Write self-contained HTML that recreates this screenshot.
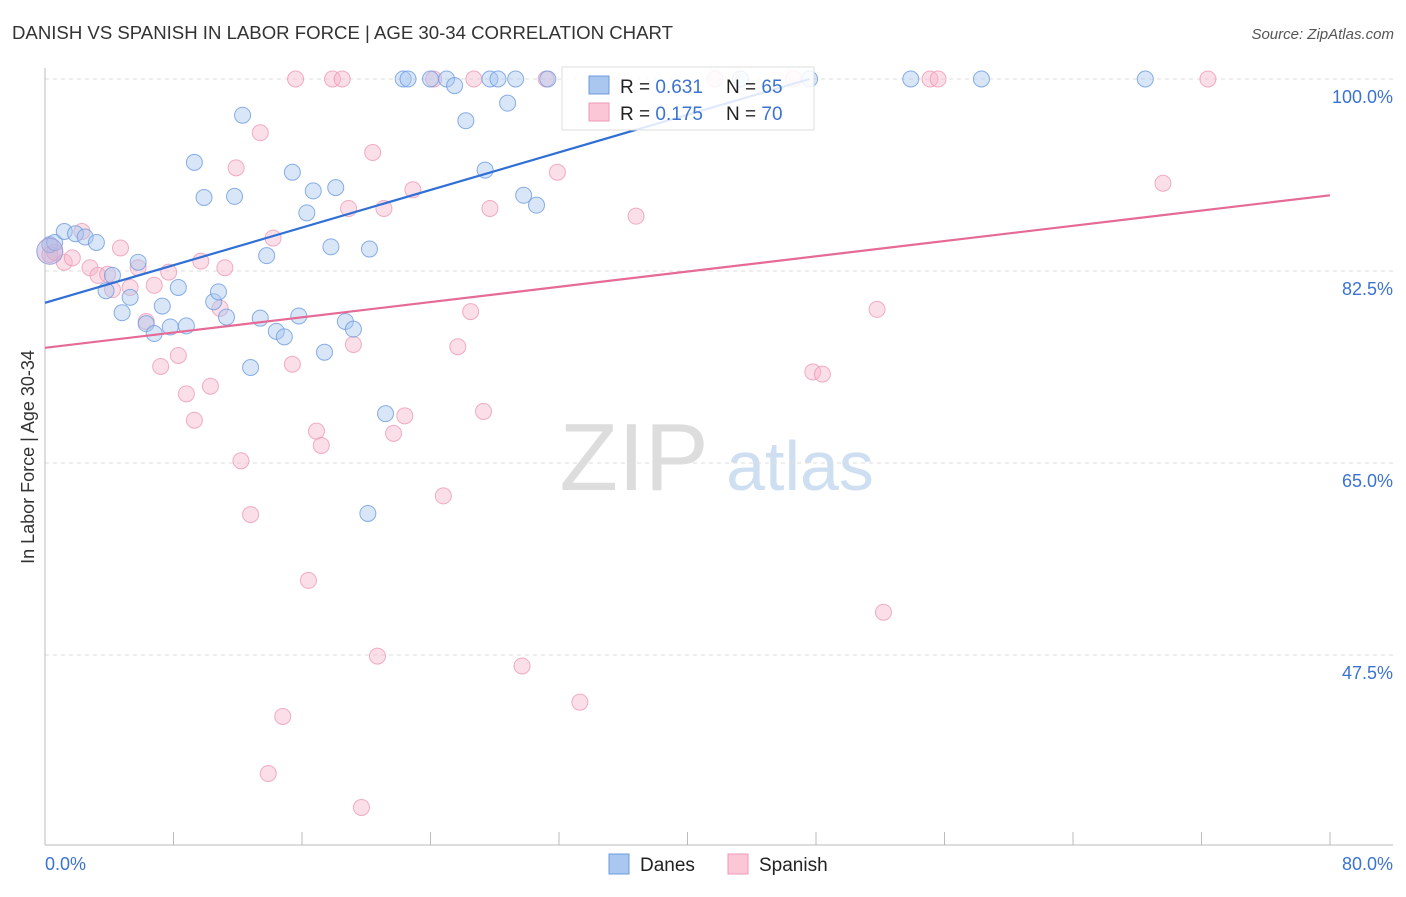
<!DOCTYPE html>
<html><head><meta charset="utf-8"><style>
body{margin:0;background:#fff;font-family:"Liberation Sans",sans-serif;}
svg text{font-family:"Liberation Sans",sans-serif;}
</style></head><body>
<svg id="chart" width="1406" height="892">
<text x="12" y="39" font-size="18.6" fill="#333">DANISH VS SPANISH IN LABOR FORCE | AGE 30-34 CORRELATION CHART</text>
<text x="1394" y="39" font-size="15" fill="#555" text-anchor="end" font-style="italic">Source: ZipAtlas.com</text>
<text x="634" y="490" font-size="96" fill="#ddd" font-family="Liberation Serif" text-anchor="middle">ZIP</text>
<text x="800" y="490" font-size="70" fill="#cfdff2" text-anchor="middle">atlas</text>
<g id="grid"></g><g id="axes"></g><g id="pts"></g><g id="trend"></g>
<text transform="translate(34,457) rotate(-90)" font-size="18" fill="#333" text-anchor="middle">In Labor Force | Age 30-34</text>
<text x="45" y="870" font-size="18" fill="#3b73d1">0.0%</text>
<text x="1393" y="870" font-size="18" fill="#3b73d1" text-anchor="end">80.0%</text>
<g>
<rect x="562" y="67" width="252" height="63" fill="#fff" fill-opacity="0.85" stroke="#ddd"/>
<rect x="589" y="76" width="20" height="18" fill="#a9c7ef" stroke="#6d9be0"/>
<rect x="589" y="103" width="20" height="18" fill="#fbc7d6" stroke="#ee9ab5"/>
<text x="620" y="93" font-size="19" fill="#222">R = <tspan fill="#3b73d1">0.631</tspan></text>
<text x="726" y="93" font-size="19" fill="#222">N = <tspan fill="#3b73d1">65</tspan></text>
<text x="620" y="120" font-size="19" fill="#222">R = <tspan fill="#3b73d1">0.175</tspan></text>
<text x="726" y="120" font-size="19" fill="#222">N = <tspan fill="#3b73d1">70</tspan></text>
</g>
<g>
<rect x="609" y="854" width="20" height="20" fill="#a9c7ef" stroke="#6d9be0"/>
<text x="640" y="871" font-size="19" fill="#222">Danes</text>
<rect x="728" y="854" width="20" height="20" fill="#fbc7d6" stroke="#ee9ab5"/>
<text x="759" y="871" font-size="19" fill="#222">Spanish</text>
</g>
</svg>
<script>
const yTicks=[100,82.5,65,47.5];
const yTickLabels=["100.0%","82.5%","65.0%","47.5%"];
const danesX=[0.3,0.6,1.2,1.9,2.5,3.2,4.2,3.8,4.8,5.3,5.8,6.3,6.8,7.3,7.8,8.3,8.8,9.3,9.9,10.5,10.8,11.3,11.8,12.3,12.8,13.4,13.8,14.4,14.9,15.4,15.8,16.3,16.7,17.4,17.8,18.1,18.7,19.2,20.1,20.2,21.2,22.3,22.6,24.0,25.0,25.5,26.2,27.4,27.7,28.2,28.8,29.3,29.8,30.6,31.3,43.3,47.6,53.9,58.3,68.5];
const danesY=[84.9,85.1,86.1,85.9,85.6,85.1,82.1,80.7,78.7,80.1,83.3,77.7,76.8,79.3,77.4,81.0,77.5,92.4,89.2,79.7,80.6,78.3,89.3,96.7,73.7,78.2,83.9,77.0,76.5,91.5,78.4,87.8,89.8,75.1,84.7,90.1,77.9,77.2,60.4,84.5,69.5,100,100,100,100,99.4,96.2,91.7,100,100,97.8,100,89.4,88.5,100,100,100,100,100,100];
const spanishX=[0.3,0.6,1.2,1.7,2.3,2.8,3.3,3.9,4.2,4.7,5.3,5.8,6.3,6.8,7.2,7.7,8.3,8.8,9.3,9.7,10.3,10.9,11.2,11.9,12.2,12.8,13.4,14.2,14.8,13.9,15.4,15.6,16.4,16.9,17.2,17.9,18.5,18.9,19.2,19.7,20.4,20.7,21.1,21.7,22.4,22.9,24.2,24.8,25.7,26.5,26.7,27.3,27.7,29.7,31.2,31.9,33.3,36.8,41.7,46.6,47.8,48.4,51.8,52.2,55.1,55.6,69.6,72.4];
const spanishY=[84.0,84.2,83.3,83.7,86.1,82.8,82.1,82.2,80.8,84.6,81.0,82.8,77.9,81.2,73.8,82.4,74.8,71.3,68.9,83.4,72.0,79.1,82.8,91.9,65.2,60.3,95.1,85.5,41.9,36.7,74.0,100,54.3,67.9,66.6,100,100,88.2,75.8,33.6,93.3,47.4,88.2,67.7,69.3,89.9,100,62.0,75.6,78.8,100,69.7,88.2,46.5,100,91.5,43.2,87.5,100,100,73.3,73.1,79.0,51.4,100,100,90.5,100];
const danesTrend=[[0,79.6],[47.6,100]];
const spanishTrend=[[0,75.5],[80,89.4]];
const NS="http://www.w3.org/2000/svg";
const X=v=>45+v*1285/80, Y=v=>79+(100-v)*192/17.5;
function mk(t,a,p){const e=document.createElementNS(NS,t);for(const k in a)e.setAttribute(k,a[k]);p.appendChild(e);return e;}
const grid=document.getElementById('grid'),axes=document.getElementById('axes'),pts=document.getElementById('pts'),tr=document.getElementById('trend');
yTicks.forEach((t,i)=>{
 const l=mk('line',{x1:45,x2:1393,y1:Y(t),y2:Y(t),stroke:'#ddd','stroke-dasharray':'4,4'},grid);
 
 
 const tx=mk('text',{x:1393,y:Y(t)+24,'font-size':18,fill:'#3b73d1','text-anchor':'end'},grid);
 tx.textContent=yTickLabels[i];
 
 
});
const ax=mk('line',{x1:45,x2:45,y1:68,y2:845,stroke:'#bbb'},axes);


const bx=mk('line',{x1:45,x2:1393,y1:845,y2:845,stroke:'#bbb'},axes);


for(let i=1;i<=10;i++){const t=mk('line',{x1:X(i*8),x2:X(i*8),y1:832,y2:845,stroke:'#bbb'},axes);
 
 }
function series(xs,ys,fill,stroke,name){xs.forEach((x,i)=>{
 const c=mk('circle',{cx:X(x),cy:Y(ys[i]),r:8,fill:fill,'fill-opacity':0.45,stroke:stroke,'stroke-opacity':0.8},pts);
 
 });}
series(spanishX,spanishY,'#f7b8cb','#ee9ab5','spanish-point');
series(danesX,danesY,'#a9c7ef','#6d9be0','danes-point');
const big=mk('circle',{cx:X(0.3),cy:Y(84.3),r:13,fill:'#b9b0dd','fill-opacity':0.5,stroke:'#a0a0d8'},pts);


const l1=mk('line',{x1:X(danesTrend[0][0]),y1:Y(danesTrend[0][1]),x2:X(danesTrend[1][0]),y2:Y(danesTrend[1][1]),stroke:'#2f6fd6','stroke-width':2.2},tr);


const l2=mk('line',{x1:X(spanishTrend[0][0]),y1:Y(spanishTrend[0][1]),x2:X(spanishTrend[1][0]),y2:Y(spanishTrend[1][1]),stroke:'#e56a96','stroke-width':2.2},tr);


</script>
</body></html>
